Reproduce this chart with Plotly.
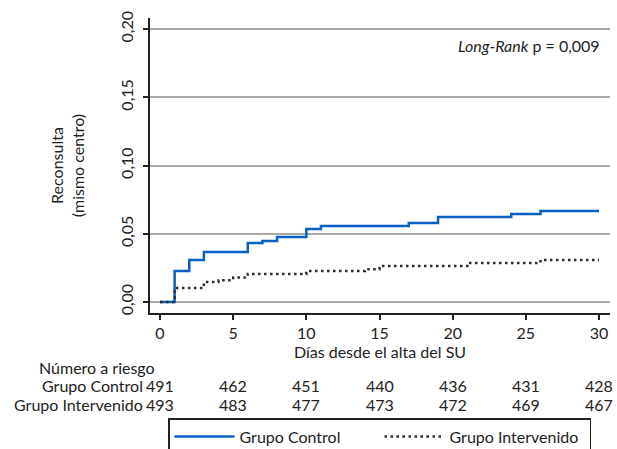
import plotly.graph_objects as go

# Data
control_days = [0, 1, 2, 3, 6, 7, 8, 10, 11, 17, 19, 24, 26, 30]
control_vals = [0, 0.0227, 0.0308, 0.0366, 0.0432, 0.0447, 0.0476, 0.0535, 0.0557,
                0.0579, 0.0623, 0.0645, 0.0667, 0.0667]
interv_days = [0, 1, 3, 4, 5, 6, 10, 14, 15, 21, 26, 30]
interv_vals = [0, 0.0103, 0.0147, 0.0160, 0.0180, 0.0205, 0.0227, 0.0240, 0.0264,
               0.0286, 0.0308, 0.0308]

risk_days = [0, 5, 10, 15, 20, 25, 30]
risk_control = [491, 462, 451, 440, 436, 431, 428]
risk_interv = [493, 483, 477, 473, 472, 469, 467]

x_ticks = [0, 5, 10, 15, 20, 25, 30]
y_ticks = [0, 0.05, 0.10, 0.15, 0.20]

FONT = "Lato"
FS = 16
TXT = "#222222"
W, H = 617, 449
L, R, T, B = 150, 7, 18, 136
PW = W - L - R
PH = H - T - B


def px_x(px):
    return (px - L) / PW


def px_y(py):
    return (H - B - py) / PH


fig = go.Figure()
fig.add_trace(go.Scatter(x=control_days, y=control_vals, mode="lines", line_shape="hv",
                         name="Grupo Control",
                         line=dict(color="#0a5fc4", width=2.5)))
fig.add_trace(go.Scatter(x=interv_days, y=interv_vals, mode="lines", line_shape="hv",
                         name="Grupo Intervenido",
                         line=dict(color="#2a2a2a", width=2.5, dash="2.5px,3.5px")))

annotations = []
annotations.append(dict(text="<i>Long-Rank</i> p = 0,009", xref="paper", yref="paper",
                        x=px_x(602), y=px_y(45), xanchor="right",
                        yanchor="middle", showarrow=False,
                        font=dict(size=FS, color=TXT, family=FONT)))
annotations.append(dict(text="Número a riesgo", xref="paper", yref="paper",
                        x=px_x(37), y=px_y(367), xanchor="left",
                        yanchor="middle", showarrow=False,
                        font=dict(size=FS, color=TXT, family=FONT)))
annotations.append(dict(text="Grupo Control", xref="paper", yref="paper",
                        x=px_x(145), y=px_y(385), xanchor="right",
                        yanchor="middle", showarrow=False,
                        font=dict(size=FS, color=TXT, family=FONT)))
annotations.append(dict(text="Grupo Intervenido", xref="paper", yref="paper",
                        x=px_x(145), y=px_y(404), xanchor="right",
                        yanchor="middle", showarrow=False,
                        font=dict(size=FS, color=TXT, family=FONT)))
for d, c, i in zip(risk_days, risk_control, risk_interv):
    annotations.append(dict(text=str(c), xref="x", yref="paper", x=d,
                            y=px_y(385), xanchor="center", yanchor="middle",
                            showarrow=False, font=dict(size=FS, color=TXT, family=FONT)))
    annotations.append(dict(text=str(i), xref="x", yref="paper", x=d,
                            y=px_y(404), xanchor="center", yanchor="middle",
                            showarrow=False, font=dict(size=FS, color=TXT, family=FONT)))

fig.update_layout(
    width=W, height=H,
    margin=dict(l=L, r=R, t=T, b=B, autoexpand=False),
    paper_bgcolor="white", plot_bgcolor="white",
    separators=",.",
    font=dict(family=FONT, size=FS, color=TXT),
    annotations=annotations,
    showlegend=True,
    legend=dict(orientation="h", x=px_x(168), y=px_y(418),
                xanchor="left", yanchor="top", bordercolor=TXT, borderwidth=1.5,
                bgcolor="white", itemwidth=60, font=dict(size=FS, family=FONT, color=TXT),
                entrywidth=135, entrywidthmode="pixels"),
    xaxis=dict(range=[-0.683, 30.75], tickvals=x_ticks, showgrid=False, zeroline=False,
               showline=True, linecolor=TXT, linewidth=2, ticks="outside",
               ticklen=5, tickwidth=2, tickcolor=TXT,
               tickfont=dict(size=FS, color=TXT),
               title=dict(text="Días desde el alta del SU", standoff=1,
                          font=dict(size=FS, color=TXT))),
    yaxis=dict(range=[-0.00806, 0.2081], tickvals=y_ticks, tickformat=".2f",
               showgrid=True, gridcolor="#a8a8a8", gridwidth=1.5, zeroline=False,
               showline=True, linecolor=TXT, linewidth=2, ticks="outside",
               ticklen=5, tickwidth=2, tickcolor=TXT, tickangle=-90,
               ticklabelstandoff=4,
               tickfont=dict(size=FS, color=TXT),
               title=dict(text="Reconsulta<br>(mismo centro)", standoff=28,
                          font=dict(size=FS, color=TXT))),
)

fig.write_html("out.html", config={"displayModeBar": False},
               post_script="document.body.style.margin='0';"
                           "document.body.style.overflow='hidden';")
